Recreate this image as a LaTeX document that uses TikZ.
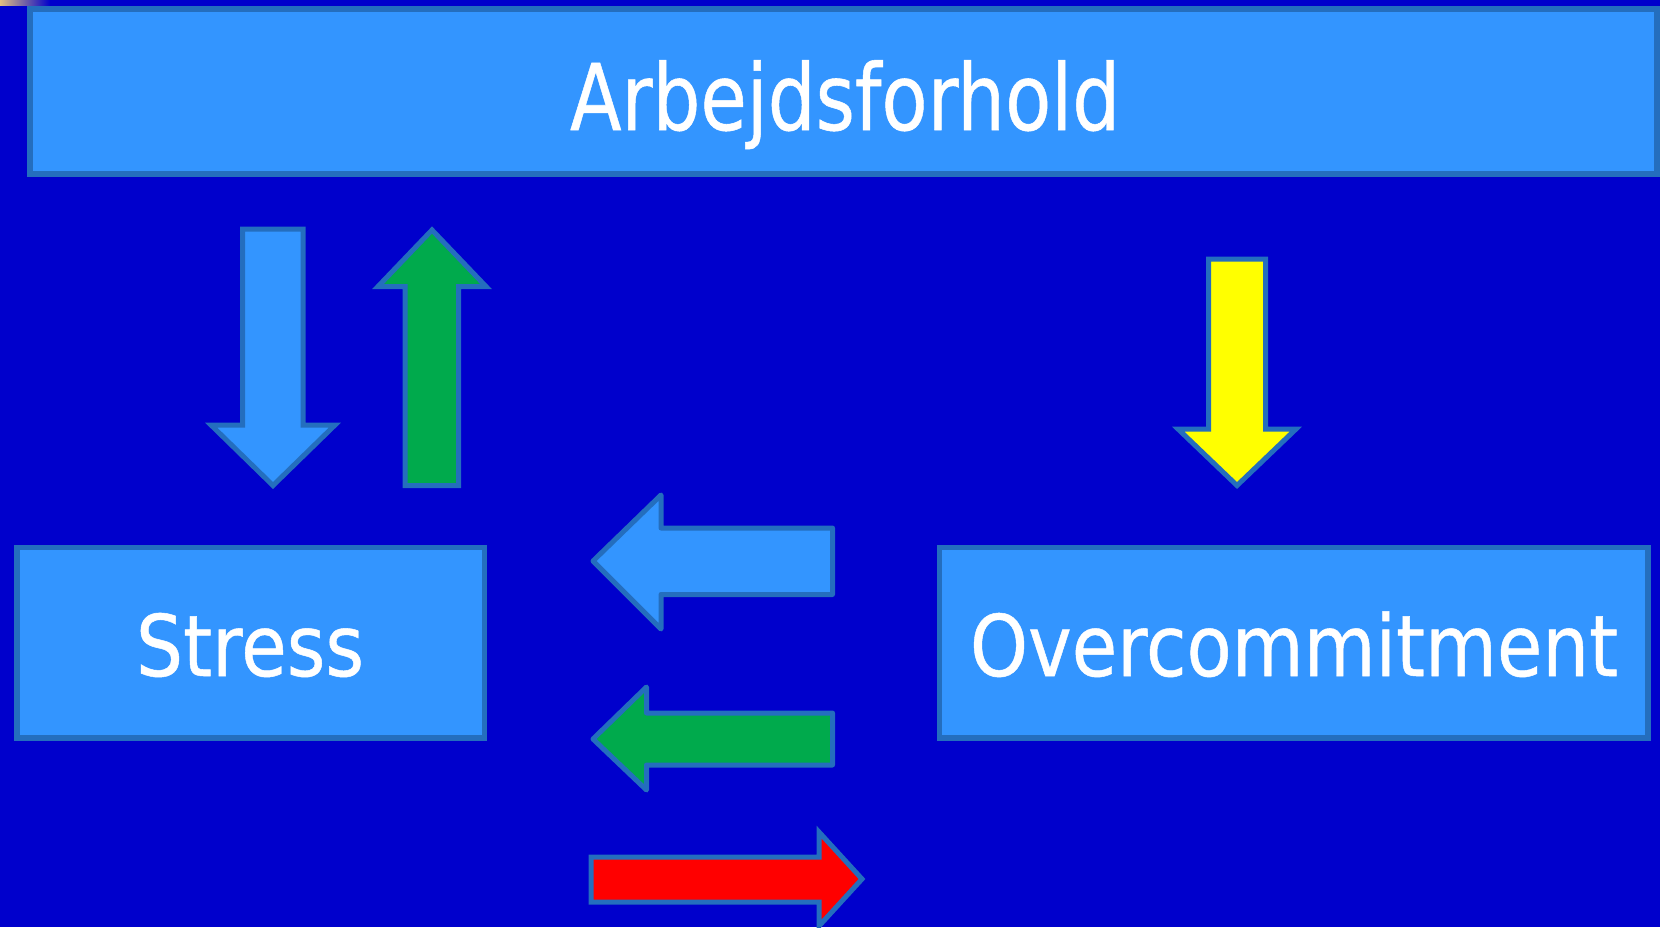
\documentclass[tikz,border=0pt]{standalone}
\usepackage{fontspec}
\usepackage{graphicx}
\setmainfont{DejaVu Sans}[FakeBold=0.6]
\definecolor{bg}{RGB}{0,0,204}
\definecolor{boxfill}{RGB}{51,149,255}
\definecolor{edge}{RGB}{36,110,190}
\definecolor{agreen}{RGB}{0,170,76}
\definecolor{ayellow}{RGB}{255,255,0}
\definecolor{ared}{RGB}{255,0,0}
\definecolor{tan}{RGB}{225,190,130}
\tikzset{
  boxnode/.style={draw=edge, fill=boxfill, line width=5.5pt, inner sep=0pt},
  blockarrow/.style={draw=edge, line width=5pt, line join=miter},
  harrow/.style={draw=edge, line width=5pt, line join=round},
  lbl/.style={text=white, inner sep=0pt, anchor=base}
}
\begin{document}
\begin{tikzpicture}[x=1pt,y=-1pt]
\useasboundingbox (0,0) rectangle (1660,927);
\fill[bg] (0,0) rectangle (1660,927);
\shade[left color=tan, right color=bg] (0,0) rectangle (50,5);
% boxes
\node[boxnode, minimum width=1627pt, minimum height=165pt] (top) at (843.5,91.5) {};
\node[boxnode, minimum width=467.5pt, minimum height=190.5pt] (stress) at (250.75,642.75) {};
\node[boxnode, minimum width=708.5pt, minimum height=190.5pt] (over) at (1293.75,642.75) {};
% labels
\node[lbl] (toplbl) at (845,130) {\resizebox{550pt}{\height}{\fontsize{92}{100}\selectfont Arbejdsforhold}};
\node[lbl] (stresslbl) at (250,676) {\resizebox{228pt}{\height}{\fontsize{85}{95}\selectfont Stress}};
\node[lbl] (overlbl) at (1294,676) {\resizebox{648pt}{\height}{\fontsize{85}{95}\selectfont Overcommitment}};
% vertical arrows
\draw[blockarrow, fill=boxfill] (242.5,229) -- (303,229) -- (303,425) -- (335,425) -- (273,485.5) -- (211,425) -- (242.5,425) -- cycle;
\draw[blockarrow, fill=agreen] (405,485.5) -- (458.5,485.5) -- (458.5,286.5) -- (486,286.5) -- (432,230) -- (378,286.5) -- (405,286.5) -- cycle;
\draw[blockarrow, fill=ayellow] (1208.5,259) -- (1265.5,259) -- (1265.5,429) -- (1296,429) -- (1237,485.5) -- (1178,429) -- (1208.5,429) -- cycle;
% horizontal arrows
\draw[harrow, fill=boxfill] (832.5,528) -- (661,528) -- (661,495) -- (593,561) -- (661,629) -- (661,594.5) -- (832.5,594.5) -- cycle;
\draw[harrow, fill=agreen] (832.5,713) -- (646.5,713) -- (646.5,687) -- (593,739) -- (646.5,790) -- (646.5,765) -- (832.5,765) -- cycle;
\draw[blockarrow, fill=ared] (591,857) -- (819,857) -- (819,832) -- (862,879) -- (819,926) -- (819,902) -- (591,902) -- cycle;
\end{tikzpicture}
\end{document}
